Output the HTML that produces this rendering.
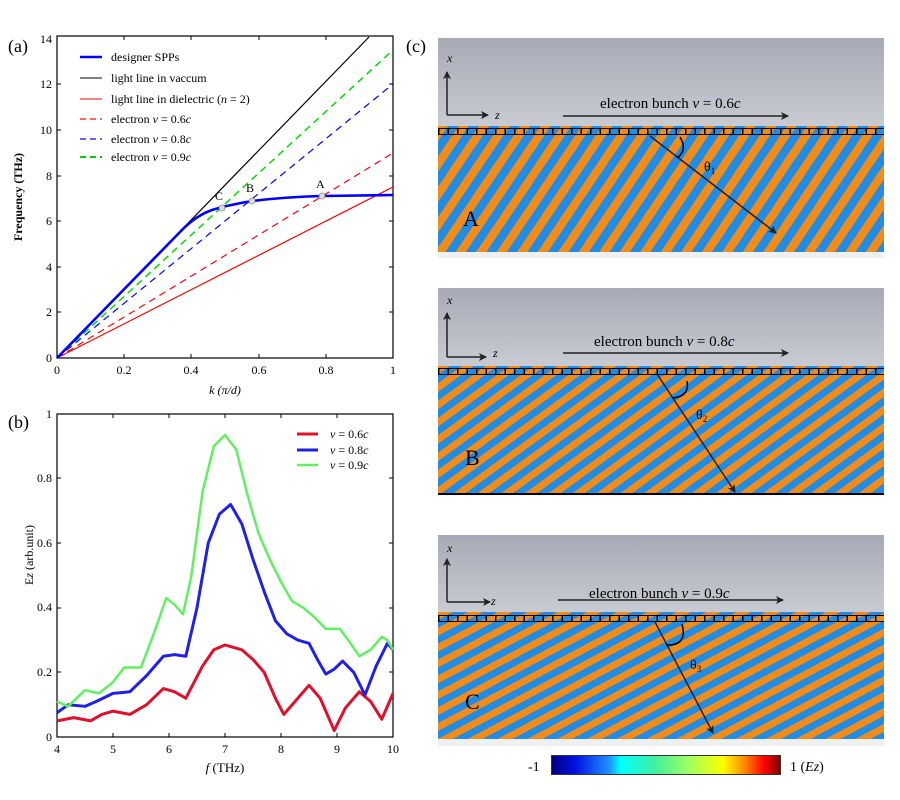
<!DOCTYPE html>
<html><head><meta charset="utf-8"><style>
body{margin:0;background:#fff;width:900px;height:800px;overflow:hidden;position:relative;font-family:"Liberation Serif",serif}
.p{position:absolute;left:438px;width:446px}
.g{position:absolute;left:0;width:446px;background:linear-gradient(#a7aab6,#c9cbd2)}
.s{position:absolute;left:0;width:446px}
.grat{position:absolute;left:0;width:446px;height:7px;border-top:1.5px solid #000;border-bottom:1.5px solid #000;box-sizing:border-box;background:repeating-linear-gradient(90deg,#000 0 1.5px,transparent 1.5px 9.5px)}
</style></head><body>
<div class="p" style="top:38px;height:220px">
 <div class="g" style="top:0;height:88px"></div>
 <div class="s" style="top:88px;height:126px;background:repeating-linear-gradient(124deg,#f08c1c 0 8.5px,#228be2 8.5px 17px)"></div>
 <div class="grat" style="top:90px"></div>
 <div style="position:absolute;left:0;top:214px;width:446px;height:6px;background:#eef0f2"></div>
</div>
<div class="p" style="top:288px;height:212px">
 <div class="g" style="top:0;height:78px"></div>
 <div class="s" style="top:78px;height:127px;background:repeating-linear-gradient(144deg,#f08c1c 0 7px,#228be2 7px 14px)"></div>
 <div class="grat" style="top:80px"></div>
 <div style="position:absolute;left:0;top:205px;width:446px;height:2px;background:#000"></div>
</div>
<div class="p" style="top:535px;height:212px">
 <div class="g" style="top:0;height:77px"></div>
 <div class="s" style="top:77px;height:127px;background:repeating-linear-gradient(152deg,#f08c1c 0 7px,#228be2 7px 14px)"></div>
 <div class="grat" style="top:80px"></div>
 <div style="position:absolute;left:0;top:204px;width:446px;height:7px;background:#eef0f2"></div>
</div>
<div style="position:absolute;left:551px;top:755px;width:230px;height:20px;border:1px solid #333;box-sizing:border-box;background:linear-gradient(90deg,#00007f,#0010e0 10%,#1e90ff 25%,#00ffff 30%,#40f0a0 45%,#a0ff60 60%,#ffff00 75%,#ff8000 85%,#ff0000 93%,#800000)"></div>
<svg width="900" height="800" style="position:absolute;left:0;top:0" font-family="Liberation Serif,serif">
<defs><marker id="ah" markerWidth="8" markerHeight="8" refX="7" refY="4" orient="auto" markerUnits="userSpaceOnUse"><path d="M0,0L8,4L0,8L2,4z" fill="#222"/></marker></defs>
<text x="8" y="52" font-size="18">(a)</text>
<rect x="57" y="36" width="336" height="322" fill="none" stroke="#000" stroke-width="1.2"/>
<g font-size="12" text-anchor="middle">
<text x="57" y="374">0</text><text x="124" y="374">0.2</text><text x="191" y="374">0.4</text><text x="259" y="374">0.6</text><text x="326" y="374">0.8</text><text x="393" y="374">1</text>
</g>
<g font-size="12" text-anchor="end">
<text x="52" y="362">0</text><text x="52" y="316">2</text><text x="52" y="271">4</text><text x="52" y="225">6</text><text x="52" y="180">8</text><text x="52" y="134">10</text><text x="52" y="88">12</text><text x="52" y="43">14</text>
</g>
<g stroke="#000" stroke-width="1"><path d="M124,358v-4M191,358v-4M259,358v-4M326,358v-4M124,36v4M191,36v4M259,36v4M326,36v4M57,312h4M57,267h4M57,221h4M57,176h4M57,130h4M57,84h4M393,312h-4M393,267h-4M393,221h-4M393,176h-4M393,130h-4M393,84h-4"/></g>
<text transform="translate(22,197) rotate(-90)" font-size="12" font-weight="bold" text-anchor="middle">Frequency (THz)</text>
<text x="225" y="394" font-size="12" text-anchor="middle" font-style="italic">k (π/d)</text>
<line x1="57" y1="358" x2="369" y2="37" stroke="#000" stroke-width="1.2"/>
<line x1="57" y1="358" x2="393" y2="187" stroke="#f00" stroke-width="1.2"/>
<line x1="57" y1="358" x2="393" y2="153" stroke="#f00" stroke-width="1.2" stroke-dasharray="7,5"/>
<line x1="57" y1="358" x2="393" y2="84" stroke="#00f" stroke-width="1.2" stroke-dasharray="7,5"/>
<line x1="57" y1="358" x2="393" y2="50" stroke="#0d0" stroke-width="1.5" stroke-dasharray="7,5"/>
<path d="M57,358 L180,232 Q195,216 212,210 L222,207 Q240,203 252,201 Q285,197 322,196 L393,195" fill="none" stroke="#00f" stroke-width="2.6"/>
<g fill="#ddd" stroke="#888" stroke-width="0.8"><circle cx="222" cy="208" r="3"/><circle cx="252" cy="201" r="3"/><circle cx="322" cy="196" r="3"/></g>
<g font-size="12"><text x="215" y="200">C</text><text x="246" y="192">B</text><text x="316" y="188">A</text></g>
<g font-size="12">
<line x1="80" y1="57" x2="102" y2="57" stroke="#00f" stroke-width="2.6"/><text x="111" y="61">designer SPPs</text>
<line x1="80" y1="78" x2="102" y2="78" stroke="#000" stroke-width="1"/><text x="111" y="82">light line in vaccum</text>
<line x1="80" y1="99" x2="102" y2="99" stroke="#f00" stroke-width="1"/><text x="111" y="103">light line in dielectric  (<tspan font-style="italic">n</tspan> = 2)</text>
<line x1="80" y1="119" x2="102" y2="119" stroke="#f33" stroke-width="1.5" stroke-dasharray="6,4"/><text x="111" y="123">electron <tspan font-style="italic">v</tspan> = 0.6<tspan font-style="italic">c</tspan></text>
<line x1="80" y1="139" x2="102" y2="139" stroke="#33f" stroke-width="1.5" stroke-dasharray="6,4"/><text x="111" y="143">electron <tspan font-style="italic">v</tspan> = 0.8<tspan font-style="italic">c</tspan></text>
<line x1="80" y1="157" x2="102" y2="157" stroke="#0c0" stroke-width="2" stroke-dasharray="6,4"/><text x="111" y="161">electron <tspan font-style="italic">v</tspan> = 0.9<tspan font-style="italic">c</tspan></text>
</g>
<text x="8" y="428" font-size="18">(b)</text>
<rect x="57" y="414" width="336" height="323" fill="none" stroke="#000" stroke-width="1.2"/>
<g font-size="12" text-anchor="middle">
<text x="57" y="753">4</text><text x="113" y="753">5</text><text x="169" y="753">6</text><text x="225" y="753">7</text><text x="281" y="753">8</text><text x="337" y="753">9</text><text x="393" y="753">10</text>
</g>
<g font-size="12" text-anchor="end">
<text x="52" y="741">0</text><text x="52" y="676">0.2</text><text x="52" y="611">0.4</text><text x="52" y="547">0.6</text><text x="52" y="482">0.8</text><text x="52" y="418">1</text>
</g>
<g stroke="#000" stroke-width="1"><path d="M113,737v-4M169,737v-4M225,737v-4M281,737v-4M337,737v-4M113,414v4M169,414v4M225,414v4M281,414v4M337,414v4M57,672h4M57,608h4M57,543h4M57,478h4M393,672h-4M393,608h-4M393,543h-4M393,478h-4"/></g>
<text transform="translate(33,555) rotate(-90)" font-size="12" text-anchor="middle">E<tspan font-style="italic">z</tspan> (arb.unit)</text>
<text x="225" y="772" font-size="13" text-anchor="middle"><tspan font-style="italic">f</tspan> (THz)</text>
<g transform="translate(57,737) scale(56,-323) translate(-4,0)" fill="none" stroke-linejoin="round">
<polyline vector-effect="non-scaling-stroke" stroke="#e0102a" stroke-width="3" points="4,0.05 4.3,0.06 4.6,0.05 4.8,0.07 5,0.08 5.3,0.07 5.6,0.1 5.9,0.15 6.1,0.14 6.3,0.12 6.6,0.22 6.8,0.27 7,0.285 7.3,0.27 7.5,0.24 7.7,0.2 7.9,0.12 8.05,0.07 8.25,0.11 8.5,0.16 8.7,0.12 8.95,0.02 9.15,0.09 9.4,0.14 9.6,0.11 9.8,0.055 10,0.135"/>
<polyline vector-effect="non-scaling-stroke" stroke="#2020e8" stroke-width="3" points="4,0.075 4.2,0.1 4.5,0.095 4.7,0.11 5,0.135 5.3,0.14 5.6,0.19 5.9,0.25 6.1,0.255 6.3,0.25 6.5,0.4 6.7,0.6 6.9,0.69 7.1,0.72 7.3,0.66 7.5,0.55 7.7,0.45 7.9,0.36 8.1,0.32 8.3,0.3 8.5,0.29 8.65,0.24 8.8,0.195 8.95,0.21 9.1,0.235 9.3,0.2 9.5,0.13 9.7,0.22 9.9,0.29 10,0.27"/>
<polyline vector-effect="non-scaling-stroke" stroke="#60f060" stroke-width="2.5" points="4,0.11 4.2,0.095 4.5,0.145 4.75,0.135 5,0.17 5.2,0.215 5.5,0.215 5.75,0.33 5.95,0.43 6.1,0.41 6.25,0.38 6.4,0.5 6.6,0.76 6.8,0.9 7,0.935 7.2,0.89 7.4,0.75 7.6,0.63 7.8,0.55 8,0.48 8.2,0.42 8.4,0.4 8.6,0.37 8.8,0.335 9.05,0.335 9.2,0.3 9.4,0.25 9.6,0.27 9.8,0.31 9.9,0.3 10,0.27"/>
</g>
<g font-size="12">
<line x1="297" y1="434" x2="318" y2="434" stroke="#e0102a" stroke-width="3"/><text x="330" y="438"><tspan font-style="italic">v</tspan> = 0.6<tspan font-style="italic">c</tspan></text>
<line x1="297" y1="450" x2="318" y2="450" stroke="#2020e8" stroke-width="3"/><text x="330" y="454"><tspan font-style="italic">v</tspan> = 0.8<tspan font-style="italic">c</tspan></text>
<line x1="297" y1="465" x2="318" y2="465" stroke="#60f060" stroke-width="2.5"/><text x="330" y="469"><tspan font-style="italic">v</tspan> = 0.9<tspan font-style="italic">c</tspan></text>
</g>
<text x="406" y="52" font-size="18">(c)</text>
<g stroke="#222" stroke-width="1.5" fill="none" marker-end="url(#ah)">
<path d="M447,115V72"/><path d="M447,115H488"/><path d="M563,116H788"/><path d="M650,136L776,233"/>
<path d="M447,357V313"/><path d="M447,357H486"/><path d="M563,353H788"/><path d="M657,374L735,492"/>
<path d="M447,602V559"/><path d="M447,602H490"/><path d="M558,600H783"/><path d="M655,622L713,733"/>
</g>
<g stroke="#000" stroke-width="1.5" fill="none"><path d="M680,137Q688,150 677,158"/><path d="M687,381Q690,396 673,398"/><path d="M682,624Q688,646 666,645"/></g>
<g font-size="12" font-style="italic"><text x="447" y="62">x</text><text x="495" y="119">z</text><text x="447" y="304">x</text><text x="493" y="357">z</text><text x="447" y="552">x</text><text x="491" y="605">z</text></g>
<g font-size="15"><text x="600" y="108">electron bunch <tspan font-style="italic">v</tspan> = 0.6<tspan font-style="italic">c</tspan></text>
<text x="594" y="346">electron bunch <tspan font-style="italic">v</tspan> = 0.8<tspan font-style="italic">c</tspan></text>
<text x="589" y="598">electron bunch <tspan font-style="italic">v</tspan> = 0.9<tspan font-style="italic">c</tspan></text></g>
<g font-size="14"><text x="704" y="171">θ<tspan font-size="9" dy="3">1</tspan></text><text x="696" y="419">θ<tspan font-size="9" dy="3">2</tspan></text><text x="690" y="669">θ<tspan font-size="9" dy="3">3</tspan></text></g>
<g font-size="22"><text x="463" y="226">A</text><text x="465" y="465">B</text><text x="465" y="709">C</text></g>
<text x="528" y="771" font-size="14">-1</text>
<text x="790" y="771" font-size="14">1 (<tspan font-style="italic">Ez</tspan>)</text>
</svg>
</body></html>
